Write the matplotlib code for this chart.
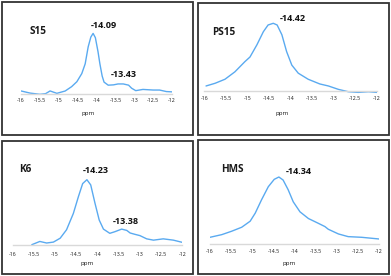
import matplotlib
matplotlib.use("Agg")
import matplotlib.pyplot as plt
from matplotlib.patches import Rectangle

W, H = 391, 276

# ---- data (normalized intensity) ----
s15_ppm = [-16, -15.76, -15.5, -15.35, -15.23, -15.05, -14.83, -14.66, -14.52, -14.39,
           -14.3, -14.22, -14.15, -14.09, -14.03, -13.96, -13.91, -13.85, -13.8, -13.69,
           -13.55, -13.43, -13.29, -13.15, -13.07, -12.96, -12.77, -12.5, -12.33, -12.15, -12]
s15_int = [0.055, 0.02, 0.0, 0.01, 0.055, 0.016, 0.054, 0.125, 0.207, 0.34,
           0.5, 0.78, 0.94, 1.0, 0.93, 0.7, 0.5, 0.3, 0.2, 0.15,
           0.155, 0.17, 0.17, 0.15, 0.10, 0.06, 0.08, 0.07, 0.07, 0.045, 0.04]

ps15_ppm = [-15.96, -15.75, -15.52, -15.29, -15.06, -14.94, -14.78, -14.63, -14.52, -14.4,
            -14.31, -14.2, -14.09, -13.97, -13.82, -13.59, -13.32, -13.12, -12.89, -12.66,
            -12.43, -12.19, -12]
ps15_int = [0.07, 0.11, 0.17, 0.28, 0.43, 0.50, 0.68, 0.875, 0.975, 1.0,
            0.975, 0.83, 0.58, 0.38, 0.26, 0.17, 0.10, 0.07, 0.02, -0.015,
            -0.025, -0.015, -0.025]

k6_ppm = [-15.55, -15.36, -15.2, -15.04, -14.88, -14.73, -14.57, -14.45, -14.35, -14.25,
          -14.16, -14.06, -13.96, -13.86, -13.71, -13.59, -13.43, -13.31, -13.23, -13.12,
          -13.0, -12.84, -12.68, -12.45, -12.21, -12]
k6_int = [0.0, 0.05, 0.026, 0.04, 0.10, 0.23, 0.48, 0.74, 0.94, 1.0,
          0.92, 0.64, 0.38, 0.24, 0.175, 0.2, 0.24, 0.22, 0.18, 0.16,
          0.14, 0.09, 0.07, 0.09, 0.07, 0.036]

hms_ppm = [-16, -15.72, -15.49, -15.25, -15.05, -14.93, -14.78, -14.62, -14.48, -14.37,
           -14.27, -14.15, -14.03, -13.87, -13.67, -13.44, -13.28, -13.2, -12.96, -12.73,
           -12.41, -12]
hms_int = [0.10, 0.14, 0.19, 0.25, 0.34, 0.46, 0.66, 0.855, 0.965, 1.0,
           0.955, 0.81, 0.63, 0.48, 0.38, 0.31, 0.26, 0.22, 0.15, 0.11,
           0.10, 0.075]

tick_vals = [-16, -15.5, -15, -14.5, -14, -13.5, -13, -12.5, -12]
tick_labels = ["-16", "-15.5", "-15", "-14.5", "-14", "-13.5", "-13", "-12.5", "-12"]

names = ["S15", "PS15", "K6", "HMS"]
peak_labels = [["-14.09", "-13.43"], ["-14.42"], ["-14.23", "-13.38"], ["-14.34"]]

# ---- layout (pixels) ----
panels = [
    dict(x=s15_ppm, y=s15_int, x16=21, x12=172, yb=94.3, yp=33.4, tick_off=6.0,
         frame=(2, 2, 192.7, 135), name_xy=(38.3, 31.7),
         peak_xy=[(103.7, 26.0), (123.7, 74.7)], ppm_xy=(88, 113)),
    dict(x=ps15_ppm, y=ps15_int, x16=204.3, x12=376.7, yb=90.7, yp=23.3, tick_off=8.3,
         frame=(198.3, 3, 388.5, 135), name_xy=(224.2, 32.7),
         peak_xy=[(292.8, 18.3)], ppm_xy=(282, 113)),
    dict(x=k6_ppm, y=k6_int, x16=12.7, x12=182.3, yb=244.7, yp=179.7, tick_off=10.6,
         frame=(2, 140.7, 193, 273.5), name_xy=(25.3, 169.7),
         peak_xy=[(95.8, 170.3), (125.8, 221.3)], ppm_xy=(87.5, 264)),
    dict(x=hms_ppm, y=hms_int, x16=210, x12=379, yb=244, yp=177, tick_off=8.0,
         frame=(198.3, 140.3, 389, 273.5), name_xy=(232.2, 169.7),
         peak_xy=[(299.2, 171.3)], ppm_xy=(289, 264)),
]

plt.rcParams['font.family'] = ['Open Sans', 'DejaVu Sans']
fig = plt.figure(figsize=(W / 100, H / 100), dpi=100)
fig.patch.set_facecolor('white')

line_color = '#5aaaf0'
y_lo, y_hi = -0.15, 1.35

for i, p in enumerate(panels):
    span = p['yb'] - p['yp']
    bot_px = p['yb'] + (-y_lo) * span
    top_px = p['yb'] - y_hi * span
    ax = fig.add_axes([p['x16'] / W, 1 - bot_px / H,
                       (p['x12'] - p['x16']) / W, (bot_px - top_px) / H])
    ax.set_xlim(-16, -12)
    ax.set_ylim(y_lo, y_hi)
    ax.patch.set_alpha(0)
    for s in ['top', 'right', 'left']:
        ax.spines[s].set_visible(False)
    ax.spines['bottom'].set_position(('data', 0))
    ax.spines['bottom'].set_color('#d9d9d9')
    ax.spines['bottom'].set_linewidth(1.0)
    ax.set_yticks([])
    ax.set_xticks(tick_vals)
    ax.set_xticklabels(tick_labels)
    pad_pt = max(p['tick_off'] - 2.8, 0) * 72 / 100
    ax.tick_params(axis='x', length=0, pad=pad_pt, labelsize=3.8, labelcolor='#1a1a1a')
    ax.plot(p['x'], p['y'], color=line_color, lw=1.0, solid_capstyle='round',
            solid_joinstyle='round')

    fig.text(p['name_xy'][0] / W, 1 - p['name_xy'][1] / H, names[i],
             fontsize=7.2, fontweight='bold', color='#1a1a1a', ha='center', va='center')
    for lab, (tx, ty) in zip(peak_labels[i], p['peak_xy']):
        fig.text(tx / W, 1 - ty / H, lab, fontsize=6.6, fontweight='bold',
                 color='#111111', ha='center', va='center')
    fig.text(p['ppm_xy'][0] / W, 1 - p['ppm_xy'][1] / H, 'ppm', fontsize=4.4,
             color='#1a1a1a', ha='center', va='center')

    x0, y0, x1, y1 = p['frame']
    fig.add_artist(Rectangle((x0 / W, 1 - y1 / H), (x1 - x0) / W, (y1 - y0) / H,
                             transform=fig.transFigure, fill=False,
                             edgecolor='#333333', linewidth=1.3))

fig.savefig('out.png', dpi=100, facecolor='white')
